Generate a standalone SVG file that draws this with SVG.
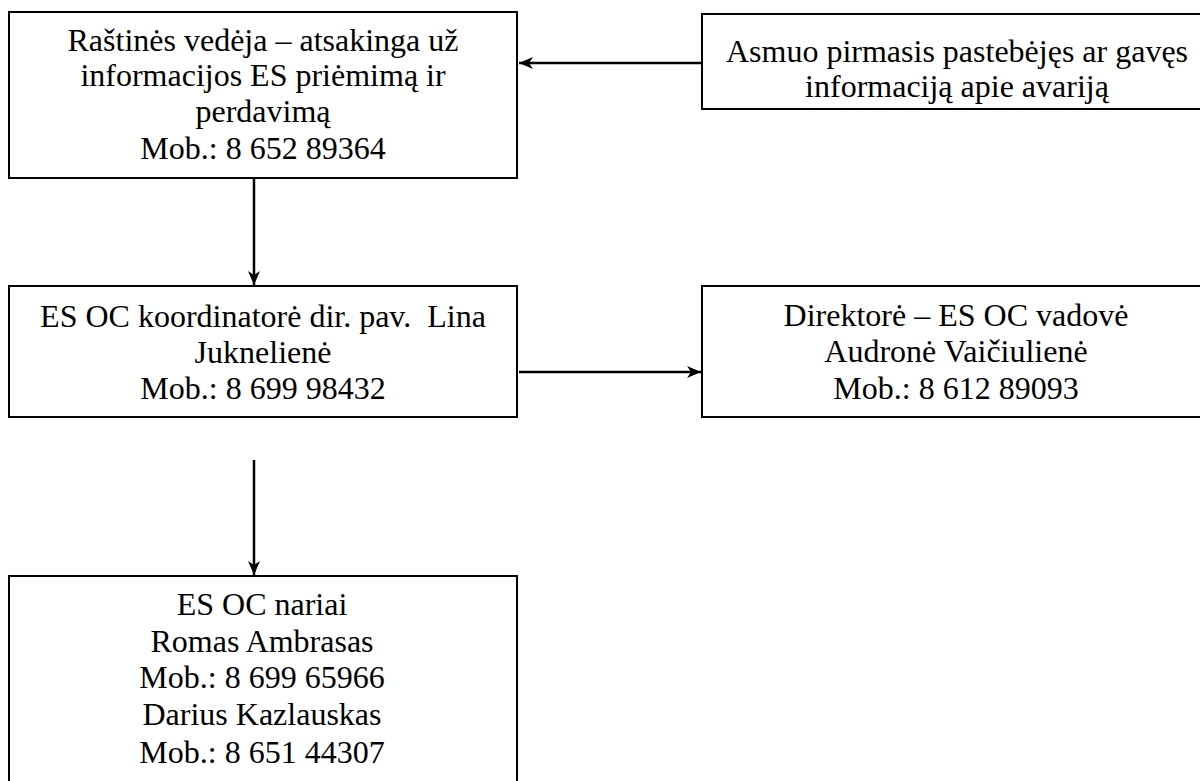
<svg xmlns="http://www.w3.org/2000/svg" width="1200" height="781" viewBox="0 0 1200 781">
<defs>
<style>
.box{fill:#fff;stroke:#000;stroke-width:2}
.t{font-family:"Liberation Serif","Times New Roman",serif;font-size:32px;fill:#000;text-anchor:middle}
.c{stroke:#000;stroke-width:2.5;fill:none}
</style>
<marker id="ah" viewBox="0 0 14 12" refX="14" refY="6" markerWidth="14" markerHeight="12" markerUnits="userSpaceOnUse" orient="auto">
<path d="M0,0 L14,6 L0,12 L4,6 Z" fill="#000"/>
</marker>
</defs>
<rect width="1200" height="781" fill="#fff"/>
<g id="n1">
<rect class="box" x="9" y="12" width="508" height="166"/>
<text class="t" x="263" y="51">Raštinės vedėja – atsakinga už</text>
<text class="t" x="263" y="86">informacijos ES priėmimą ir</text>
<text class="t" x="263" y="122">perdavimą</text>
<text class="t" x="263" y="159">Mob.: 8 652 89364</text>
</g>
<g id="n2">
<rect class="box" x="702" y="14" width="512" height="95"/>
<text class="t" x="957" y="62">Asmuo pirmasis pastebėjęs ar gavęs</text>
<text class="t" x="957" y="97">informaciją apie avariją</text>
</g>
<g id="n3">
<rect class="box" x="9" y="286" width="508" height="131"/>
<text class="t" x="263" y="327" xml:space="preserve">ES OC koordinatorė dir. pav.  Lina</text>
<text class="t" x="263" y="363">Juknelienė</text>
<text class="t" x="263" y="399">Mob.: 8 699 98432</text>
</g>
<g id="n4">
<rect class="box" x="702" y="286" width="512" height="131"/>
<text class="t" x="956" y="326">Direktorė – ES OC vadovė</text>
<text class="t" x="956" y="362">Audronė Vaičiulienė</text>
<text class="t" x="956" y="399">Mob.: 8 612 89093</text>
</g>
<g id="n5">
<rect class="box" x="9" y="576" width="508" height="230"/>
<text class="t" x="262" y="615">ES OC nariai</text>
<text class="t" x="262" y="652">Romas Ambrasas</text>
<text class="t" x="262" y="688">Mob.: 8 699 65966</text>
<text class="t" x="262" y="725">Darius Kazlauskas</text>
<text class="t" x="262" y="763">Mob.: 8 651 44307</text>
</g>
<g id="connectors">
<line class="c" x1="702" y1="63" x2="519" y2="63" marker-end="url(#ah)"/>
<line class="c" x1="254" y1="178" x2="254" y2="285" marker-end="url(#ah)"/>
<line class="c" x1="519" y1="372" x2="701" y2="372" marker-end="url(#ah)"/>
<line class="c" x1="254" y1="460" x2="254" y2="575" marker-end="url(#ah)"/>
</g>
</svg>
